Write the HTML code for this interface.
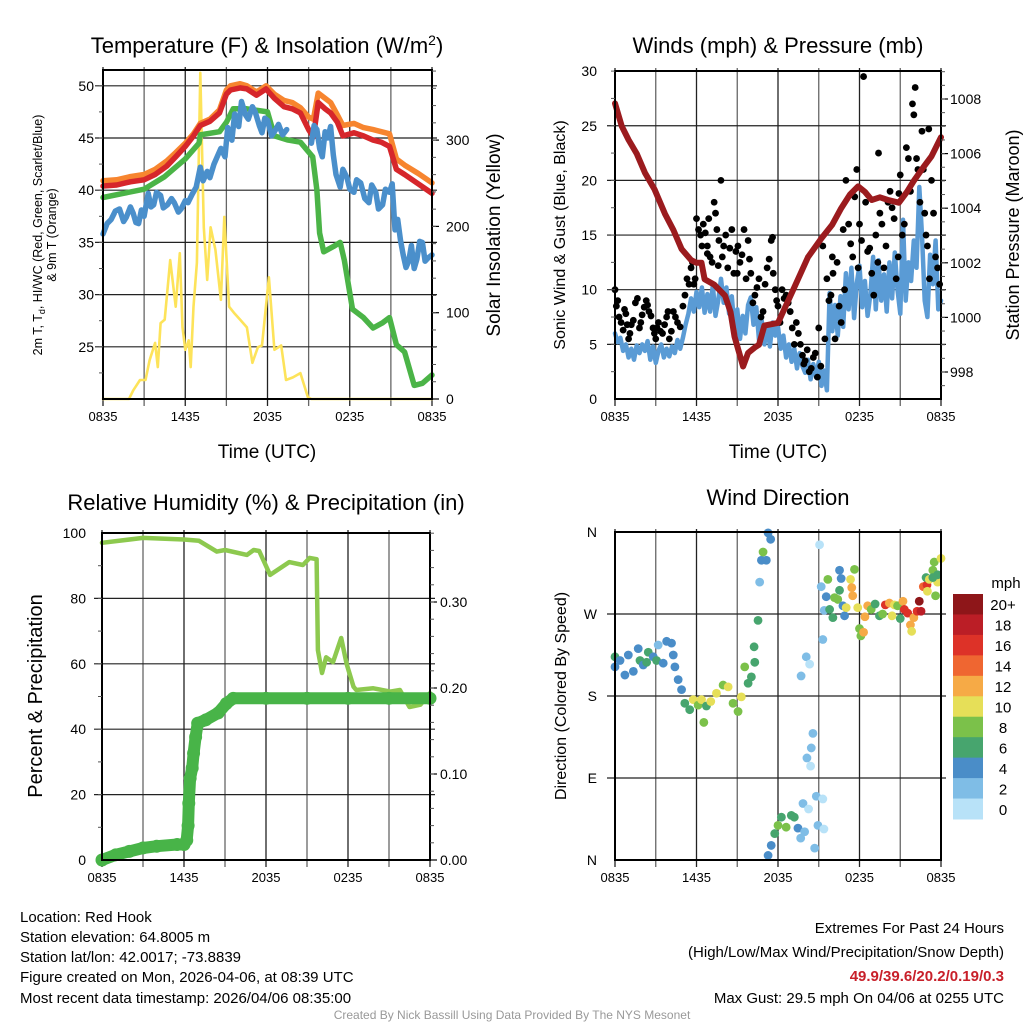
<!DOCTYPE html>
<html><head><meta charset="utf-8"><style>
html,body{margin:0;padding:0;background:#fff;}
svg{display:block;font-family:"Liberation Sans",Arial,sans-serif;}
</style></head><body>
<svg id="chart" width="1024" height="1024" viewBox="0 0 1024 1024" xmlns="http://www.w3.org/2000/svg">
<rect width="1024" height="1024" fill="#fff"/>
<g id="grids"></g>
<g id="series"></g>
<g id="axes"></g>
<text x="267" y="53" font-size="22" text-anchor="middle">Temperature (F) &amp; Insolation (W/m<tspan dy="-8" font-size="14">2</tspan><tspan dy="8">)</tspan></text>
<text x="778" y="53" font-size="22" text-anchor="middle">Winds (mph) &amp; Pressure (mb)</text>
<text x="266" y="510" font-size="22" text-anchor="middle">Relative Humidity (%) &amp; Precipitation (in)</text>
<text x="778" y="505" font-size="22" text-anchor="middle">Wind Direction</text>
<text x="267" y="458" font-size="19" text-anchor="middle">Time (UTC)</text>
<text x="778" y="458" font-size="19" text-anchor="middle">Time (UTC)</text>
<g transform="translate(42,235) rotate(-90)" font-size="12.5" text-anchor="middle">
<text x="0" y="0">2m T, T<tspan dy="3" font-size="9">d</tspan><tspan dy="-3">, HI/WC (Red, Green, Scarlet/Blue)</tspan></text>
<text x="0" y="14">&amp; 9m T (Orange)</text></g>
<text transform="translate(500,235) rotate(-90)" font-size="19" text-anchor="middle">Solar Insolation (Yellow)</text>
<text transform="translate(565,235) rotate(-90)" font-size="16" text-anchor="middle">Sonic Wind &amp; Gust (Blue, Black)</text>
<text transform="translate(1019,235) rotate(-90)" font-size="18" text-anchor="middle">Station Pressure (Maroon)</text>
<text transform="translate(42,696) rotate(-90)" font-size="20" text-anchor="middle">Percent &amp; Precipitation</text>
<text transform="translate(566,696) rotate(-90)" font-size="16" text-anchor="middle">Direction (Colored By Speed)</text>
<g id="cbar"></g>
<text x="1006" y="588" font-size="15" text-anchor="middle">mph</text>
<g font-size="15">
<text x="20" y="922">Location: Red Hook</text>
<text x="20" y="942">Station elevation: 64.8005 m</text>
<text x="20" y="962">Station lat/lon: 42.0017; -73.8839</text>
<text x="20" y="982">Figure created on Mon, 2026-04-06, at 08:39 UTC</text>
<text x="20" y="1003">Most recent data timestamp: 2026/04/06 08:35:00</text>
</g>
<g font-size="15" text-anchor="end">
<text x="1004" y="933">Extremes For Past 24 Hours</text>
<text x="1004" y="957">(High/Low/Max Wind/Precipitation/Snow Depth)</text>
<text x="1004" y="981" fill="#c8202a" font-weight="bold">49.9/39.6/20.2/0.19/0.3</text>
<text x="1004" y="1003">Max Gust: 29.5 mph On 04/06 at 0255 UTC</text>
</g>
<text x="512" y="1019" font-size="12" fill="#999" text-anchor="middle">Created By Nick Bassill Using Data Provided By The NYS Mesonet</text>
</svg>
<script>
const timeTickLabels = ["0835","1435","2035","0235","0835"];
const tempTicks = [25,30,35,40,45,50];
const solarTicks = [0,100,200,300];
const windTicks = [0,5,10,15,20,25,30];
const presTicks = [998,1000,1002,1004,1006,1008];
const rhTicks = [0,20,40,60,80,100];
const precipTicks = [0,0.1,0.2,0.3];
const dirTickLabels = ["N","E","S","W","N"];

const redH = [0,1,2,3,3.8,4.65,5.3,6,6.6,7.1,7.8,8.5,9,9.3,10,10.5,11.2,11.9,12.5,13.2,13.8,14.4,15,15.35,15.7,16.2,16.6,17.1,17.5,18.3,19,19.7,20.3,20.9,21.4,22,23,24];
const redT = [40.4,40.5,40.8,41.0,41.5,42.3,43.2,44.2,45.2,46.2,46.6,47.4,49.2,49.6,49.8,49.7,49.1,49.7,48.8,48.0,47.8,47.4,45.8,45.1,48.4,47.8,47.4,46.5,45.2,45.5,45.2,44.8,44.6,44.2,42.0,41.5,40.6,39.7];
const orangeH = [0,1,2,3,3.8,4.65,5.3,6,6.6,7.1,7.8,8.5,9,9.3,10,10.5,11.2,11.9,12.5,13.2,13.8,14.4,15,15.35,15.7,16.2,16.6,17.1,17.5,18.3,19,19.7,20.3,20.9,21.4,22,23,24];
const orangeT = [40.9,41.0,41.3,41.5,42.0,42.8,43.6,44.5,45.4,46.4,46.8,47.7,49.6,50.0,50.2,50.0,49.4,50.0,49.2,48.6,48.4,47.9,47.0,46.8,49.3,48.8,48.4,47.2,46.2,46.4,46.0,45.8,45.6,45.4,43.0,42.4,41.6,40.7];
const greenH = [0,1.5,3,4.5,6,7,7.1,8.5,9,9.5,10.5,12,12.5,13.5,14.4,15.3,15.6,15.8,16.1,16.8,17.3,17.6,18.2,19,19.7,20.4,20.9,21.4,22,22.7,23.3,24];
const greenT = [39.3,39.7,40.1,41.3,43.0,44.5,45.3,45.6,46.5,47.8,47.8,47.5,45.2,44.8,44.6,43.2,40,35.9,34.1,34.6,35,33.3,28.6,27.8,26.8,27.3,27.8,25.2,24.5,21.3,21.5,22.3];
const blueH = [0,0.3,0.6,0.9,1.2,1.5,1.7,2.0,2.2,2.4,2.6,2.8,3.0,3.3,3.5,3.7,3.9,4.2,4.4,4.7,5.0,5.2,5.5,5.7,6.0,6.2,6.5,6.8,7.1,7.3,7.6,7.8,8.1,8.4,8.6,8.9,9.1,9.4,9.6,9.9,10.1,10.4,10.6,10.9,11.1,11.4,11.6,11.8,12,12.3,12.6,12.8,13.1,13.4,14,15.2,15.4,15.6,15.8,16,16.2,16.4,16.6,16.8,17.0,17.3,17.5,17.8,18.0,18.3,18.5,18.8,19.1,19.4,19.6,19.9,20.1,20.4,20.6,20.9,21.1,21.3,21.5,21.7,21.9,22.1,22.3,22.5,22.7,22.9,23.1,23.3,23.5,23.7,24];
const blueT = [35.8,36.8,37.2,38.0,38.2,37.0,37.4,38.4,37.8,36.9,36.8,38.1,37.5,39.7,38.4,38.6,39.8,39.5,38.3,38.6,39.2,38.8,37.9,38.2,39.0,38.8,39.6,40.3,42.2,40.9,41.8,41.2,42.5,43.4,44,43.2,46,44.8,47.3,46.1,48.5,47.2,46.8,48.0,47.5,46.2,45.5,46.9,46.7,45.2,45.8,46.3,45.3,45.8,null,44.5,46.2,45.8,44.0,43.2,45.6,45,46.1,43.4,41.5,40.3,42.0,41.2,40.1,39.8,41.0,40.7,39.2,38.8,40.5,39.8,38.2,38.6,40.1,39.8,40.6,36.2,37.2,35.2,33.8,32.6,33.2,34.7,32.5,33.4,35.1,35,33.2,33.5,33.8];
const solarH = [0,1.9,2.2,2.7,3.1,3.4,3.8,4.0,4.2,4.5,4.9,5.3,5.6,5.8,6.0,6.25,6.4,6.6,6.85,7.1,7.35,7.6,7.85,8.2,8.6,8.85,9.2,9.55,10.0,10.5,10.9,11.3,11.6,12.1,12.5,13.0,13.35,13.85,14.4,14.95,15.2,24];
const solarW = [0,0,10,22,22,45,65,37,88,92,161,107,169,83,57,68,37,107,158,378,199,138,199,173,115,211,107,100,92,83,42,60,62,141,57,62,22,25,30,2,0,0];

const windH = [0,0.2,0.4,0.6,0.8,1.0,1.2,1.4,1.6,1.8,2.0,2.2,2.4,2.6,2.8,3.0,3.2,3.4,3.6,3.8,4.0,4.2,4.4,4.6,4.8,5.0,5.2,5.4,5.6,5.8,6.0,6.2,6.4,6.6,6.8,7.0,7.2,7.4,7.6,7.8,8.0,8.2,8.4,8.6,8.8,9.0,9.2,9.4,9.6,9.8,10.0,10.2,10.4,10.6,10.8,11.0,11.2,11.4,11.6,11.8,12.0,12.2,12.4,12.6,12.8,13.0,13.2,13.4,13.6,13.8,14.0,14.2,14.4,14.6,14.8,15.0,15.2,15.4,15.6,15.8,16.0,16.2,16.4,16.6,16.8,17.0,17.2,17.4,17.6,17.8,18.0,18.2,18.4,18.6,18.8,19.0,19.2,19.4,19.6,19.8,20.0,20.2,20.4,20.6,20.8,21.0,21.2,21.4,21.6,21.8,22.0,22.2,22.4,22.6,22.8,23.0,23.2,23.4,23.6,23.8,24.0];
const windV = [6,5.2,5.6,4.4,5.0,3.8,4.6,3.6,4.9,4.2,5.0,4.4,5.3,3.6,4.8,3.3,4.4,5.0,3.8,4.6,3.9,4.8,4.2,5.4,4.6,5.6,6.8,7.8,9.2,8.0,9.8,8.4,10.2,7.9,9.6,8.0,10.4,7.6,9.0,11.0,8.8,10.2,7.8,9.4,6.5,8.2,5.5,7.6,6.0,8.6,9.3,6.8,8.4,5.4,7.2,5.0,6.8,4.8,7.0,5.8,6.6,4.6,5.8,3.8,5.0,3.4,4.6,2.8,4.2,3.0,2.4,3.6,1.8,3.2,2.0,3.4,1.2,2.6,0.8,9.7,6.2,8.6,5.8,9.4,6.6,11.5,8.2,12.0,7.4,10.6,12.2,8.4,10.8,7.6,9.6,13.0,8.2,12.7,9.0,11.4,8.0,12.5,9.2,13.4,10.0,7.8,16.4,9.0,12.5,10.8,14.5,12.0,19.4,15.0,9.0,7.5,13.2,10.5,14.5,8.2,9.0];
const gustH = [0,0.1,0.3,0.6,0.8,1.0,1.2,1.5,1.8,2.0,2.3,2.5,2.8,3.0,3.2,3.5,3.8,4.0,4.3,4.6,5.0,5.3,5.6,5.8,6.0,6.3,6.5,6.8,7.0,7.3,7.5,7.8,8.0,8.3,8.6,8.9,9.2,9.5,9.8,10.0,10.3,10.6,10.9,11.2,11.5,11.8,12.0,12.3,12.6,12.9,13.2,13.5,13.8,14.0,14.3,14.6,14.9,15.0,15.3,15.6,15.9,16.2,16.5,16.8,17.0,17.2,17.5,17.8,18.0,18.3,18.6,18.9,19.2,19.5,19.8,20.1,20.4,20.7,21.0,21.3,21.6,21.9,22.1,22.3,22.6,22.8,23.0,23.3,23.6,23.9,6.8,7.6,9.0,11.6,16.0,20.9,19.4,23.1];
const gustV = [10,8.5,7.5,6.3,7.8,5.5,6.8,8.8,6.5,7.7,9,8,6.5,5.5,7,6,7.5,5.5,8,7,8.5,11,12,10.5,16.5,15,16,14,13,18,15.5,20,14,12,15.5,13.5,12.5,15.5,14.5,11.5,9.5,11,8,12,14.5,10,8.5,10,9.5,8,5,6,4,3.5,2.5,3.8,2,6.5,14,11,9.5,5.5,8.5,15.5,20,16,13,21,16,29.5,13.5,11.5,15,17,12,18,17.5,11,20.5,16,22,27,28.5,21,24.5,17,14,20,13,10.5,13.3,12.2,11.5,14.8,13,18.8,22.5,24.7];
const gustH2 = [0.2,0.45,0.7,0.9,1.1,1.35,1.65,1.9,2.15,2.4,2.65,2.9,3.1,3.35,3.65,3.9,4.15,4.45,4.8,5.15,5.45,5.7,5.9,6.15,6.4,6.65,6.9,7.15,7.4,7.65,7.9,8.15,8.45,8.75,9.05,9.35,9.65,9.9,10.15,10.45,10.75,11.05,11.35,11.65,11.9,12.15,12.45,12.75,13.05,13.35,13.65,13.9,14.15,14.45,14.75,15.15,15.45,15.75,16.05,16.35,16.65,16.9,17.35,17.65,17.9,18.15,18.45,18.75,19.05,19.35,19.65,19.95,20.25,20.55,20.85,21.15,21.45,21.75,22.0,22.2,22.45,22.7,22.9,23.15,23.45,23.75];
const gustV2 = [9,7,8.2,6.8,6,7.2,9.2,7,8.4,8.6,7.6,6,6.5,6.2,6.8,8,6.2,7.5,6.6,9.5,10.5,12.5,11,15.5,14,15.2,16.5,12.5,17,14.5,13,15,13.8,11.5,14,13.2,11,12.8,8.8,10.2,7.5,10.5,12.8,11.5,9,7,9.2,8.8,6.5,7,5,3.2,4.5,2.8,4.2,3,5.5,9,11.5,12.5,7,10,14.2,18.5,12,14.5,18,13.8,9.5,12.5,16,14,19,16.5,13,15,23,19,26,22,18,21,15,11,17,12];
const presH = [0,0.5,1,1.6,2.2,2.9,3.67,4.3,4.9,5.6,6.0,6.37,6.6,7.3,8.1,8.5,8.8,9.43,9.8,10.3,10.6,11,12,13.2,14.2,15.2,16.0,16.65,17.3,17.9,18.4,18.9,19.5,20.1,20.9,21.5,22.0,22.7,23.3,24];
const presP = [1007.84,1007.0,1006.5,1006.0,1005.3,1004.7,1003.8,1003.2,1002.5,1002.1,1002.0,1002,1001.4,1001.2,1000.8,1000.2,999.3,998.2,998.7,998.9,999.0,999.7,999.8,1001.1,1002.2,1002.9,1003.4,1004,1004.5,1004.8,1004.6,1004.3,1004.4,1004.3,1004.2,1004.6,1005,1005.5,1005.9,1006.6];

const rhH = [0,3,6,7.1,8.4,9,10.6,11.1,11.5,12.3,13.7,14.7,15.2,15.7,15.8,16.1,16.4,16.9,17.5,17.9,18.4,18.6,19.85,21.1,21.8,22.5,23.3,24];
const rhV = [97,98.5,98,97.6,94.3,94.8,93.3,94.8,94.5,87.2,91.1,90.2,92.4,92,64.2,57.2,62,60.5,67.9,60,53,52,52.5,51.5,52,46.8,47.5,51];
const precipH = [0,1,2,3,4,5.5,6,6.2,6.3,6.35,6.45,6.6,6.7,6.85,7.0,7.6,8.5,9.1,9.6,12,15,18,21,24];
const precipV = [0,0.006,0.01,0.014,0.016,0.018,0.018,0.023,0.04,0.066,0.095,0.107,0.124,0.143,0.159,0.163,0.171,0.182,0.188,0.188,0.188,0.188,0.188,0.188];

const dirH = [0,0,0.37,0.73,0.98,1.35,1.71,1.84,2.08,2.33,2.45,2.82,3.06,3.18,3.55,3.8,4.16,4.29,4.41,4.65,4.9,5.14,5.5,5.76,6.12,6.37,6.54,6.73,7.05,7.47,7.96,8.33,8.69,9.06,9.3,9.55,9.8,10.04,10.29,10.24,10.53,10.65,10.78,10.9,11.14,11.27,11.46,11.27,11.5,11.76,12.0,12.25,12.6,12.98,13.2,13.47,13.67,13.84,13.96,14.08,14.33,13.7,14.57,14.45,14.13,14.4,14.82,15.3,14.25,14.94,15.38,14.7,15.06,15.18,15.55,15.67,15.3,15.4,15.8,16.04,16.16,16.4,16.53,16.65,16.53,16.78,16.9,17.02,17.34,17.43,17.5,17.63,17.87,18.0,18.1,18.3,18.4,18.6,18.86,19.15,19.47,19.7,19.9,20.2,20.4,20.57,20.8,21.0,21.2,21.3,21.55,21.75,21.84,22.0,22.24,22.4,22.53,22.7,22.97,23.0,22.9,23.14,23.4,23.6,23.75,23.75,23.5,24,23.4];
const dirD = [223,212,219,203,225,207,232,219,214,217,228,223,219,236,216,240,238,225,212,198,187,172,165,176,170,176,151,169,174,183,192,190,172,163,179,212,194,201,217,234,263,305,329,338,329,359,352,5,16,29,38,47,36,49,47,35,24,62,31,223,215,202,139,123,112,103,70,67,56,38,34,13,346,300,289,308,242,274,275,266,288,286,318,309,296,279,268,277,308,299,290,319,277,254,246,250,267,279,275,281,268,270,280,282,268,280,279,265,284,275,271,258,251,266,273,284,273,300,302,295,310,308,318,290,305,313,327,331,310];
const dirS = [6,4,4,4,4,4,4,6,4,6,6,4,6,2,4,4,4,4,4,4,4,6,6,10,8,10,8,6,10,10,8,10,8,8,10,8,6,6,6,6,6,2,4,8,4,4,4,4,4,6,8,6,8,6,6,4,2,2,2,2,0,2,2,2,2,0,2,0,0,2,0,2,0,2,4,8,2,2,6,6,8,8,4,4,6,4,4,10,10,12,12,8,10,8,8,12,12,12,8,6,6,8,16,12,10,10,8,6,12,16,16,12,10,12,16,20,18,14,16,10,6,10,8,8,10,6,8,10,6];
const speedLevels = [0,2,4,6,8,10,12,14,16,18,20];
const speedLabels = ["0","2","4","6","8","10","12","14","16","18","20+"];
const speedColors = ["#b8e2f8","#7fbde6","#4a8dc8","#47a56e","#7bc14a","#e6df58","#f6aa46","#ef6631","#dd3228","#bb1e26","#8e1619"];

const NS="http://www.w3.org/2000/svg";
const P1={x0:103,x1:432,y0:70,y1:399}, P2={x0:615,x1:941,y0:71,y1:399}, P3={x0:102,x1:430,y0:533,y1:860}, P4={x0:615,x1:941,y0:532,y1:860};
const xs=P=>h=>P.x0+h*(P.x1-P.x0)/24;
const X1=xs(P1),X2=xs(P2),X3=xs(P3),X4=xs(P4);
const YT=t=>399-(t-20)*10.44, YS=w=>399-w*0.863;
const YW=v=>399-v*10.93, YP=p=>372-(p-998)*27.3;
const YR=r=>860-r*3.27, YPR=p=>860-p*860;
const YD=d=>860-d*328/360;

function mk(tag,attrs,parent){const e=document.createElementNS(NS,tag);for(const k in attrs)e.setAttribute(k,attrs[k]);parent.appendChild(e);return e;}
const G=document.getElementById('grids'),S=document.getElementById('series'),A=document.getElementById('axes');

function pathFrom(hs,vs,X,Y){let d="",pen=false;for(let i=0;i<hs.length;i++){if(vs[i]===null){pen=false;continue;}d+=(pen?"L":"M")+X(hs[i]).toFixed(1)+","+Y(vs[i]).toFixed(1);pen=true;}return d;}
function line(hs,vs,X,Y,color,w,name){const p=mk('path',{d:pathFrom(hs,vs,X,Y),fill:'none',stroke:color,'stroke-width':w,'stroke-linejoin':'round','stroke-linecap':'round'},S);

return p;}

function panel(P,X,hY,hVals,name){
  for(let i=0;i<=8;i++){const x=X(i*3);const l=mk('line',{x1:x,x2:x,y1:P.y0-3,y2:P.y1+7,stroke:i%2?'#666':'#222','stroke-width':1.3},G);
    
    }
  hVals.forEach(v=>{const y=hY(v);const l=mk('line',{x1:P.x0-8,x2:P.x1+5,y1:y,y2:y,stroke:'#222','stroke-width':1.2},G);
    
    });
  const r=mk('rect',{x:P.x0,y:P.y0,width:P.x1-P.x0,height:P.y1-P.y0,fill:'none',stroke:'#000','stroke-width':2},A);
  
  
  timeTickLabels.forEach((t,i)=>{const tx=mk('text',{x:X(i*6),y:P.y1+22,'font-size':13,'text-anchor':'middle'},A);tx.textContent=t;
    
    });
}
function yLabels(vals,Y,x,anchor,fmt,size){vals.forEach(v=>{const t=mk('text',{x:x,y:Y(v)+5,'font-size':size||14,'text-anchor':anchor},A);t.textContent=fmt?fmt(v):v;
  
  });}
function rightTicks(P,vals,Y,minorStep){vals.forEach(v=>{mk('line',{x1:P.x1,x2:P.x1+7,y1:Y(v),y2:Y(v),stroke:'#000','stroke-width':1.2},A);});
  if(minorStep){const lo=vals[0]-minorStep*10,hi=vals[vals.length-1]+minorStep*10;for(let v=lo;v<=hi+1e-9;v+=minorStep){const y=Y(v);if(y>P.y0&&y<P.y1)mk('line',{x1:P.x1,x2:P.x1+4,y1:y,y2:y,stroke:'#555','stroke-width':1},A);}}}
function leftMinor(P,Y,lo,hi,step){for(let v=lo;v<=hi+1e-9;v+=step){const y=Y(v);if(y>P.y0&&y<P.y1)mk('line',{x1:P.x0-4,x2:P.x0,y1:y,y2:y,stroke:'#555','stroke-width':1},A);}}

panel(P1,X1,YT,tempTicks,'temp');
yLabels(tempTicks,YT,94,'end');
leftMinor(P1,YT,20,52,2.5);
rightTicks(P1,solarTicks,YS,20);
yLabels(solarTicks,YS,446,'start');
line(solarH,solarW,X1,YS,'#fde35a',2.6,'solar-insolation-line');
line(orangeH,orangeT,X1,YT,'#f7852f',5.5,'temp-9m-line');
line(redH,redT,X1,YT,'#d6262b',5.5,'temp-2m-line');
line(greenH,greenT,X1,YT,'#4bb447',5.5,'dewpoint-line');
line(blueH,blueT,X1,YT,'#4a8fcb',5.5,'wind-chill-line');

panel(P2,X2,YW,windTicks.slice(1,6),'wind');
yLabels(windTicks,YW,597,'end');
leftMinor(P2,YW,0,30,2.5);
rightTicks(P2,presTicks,YP,0.5);
yLabels(presTicks,YP,950,'start');
line(windH,windV,X2,YW,'#5a9bd5',4.5,'sonic-wind-line');
gustH.forEach((h,i)=>{const c=mk('circle',{cx:X2(h),cy:YW(gustV[i]),r:3.4,fill:'#000'},S);
  
  });
gustH2.forEach((h,i)=>{const c=mk('circle',{cx:X2(h),cy:YW(gustV2[i]),r:3.4,fill:'#000'},S);
  
  });
line(presH,presP,X2,YP,'#9b1b1e',6,'pressure-line');

panel(P3,X3,YR,[20,40,60,80],'rh');
yLabels(rhTicks,YR,86,'end');
leftMinor(P3,YR,0,100,10);
rightTicks(P3,precipTicks,YPR,0.02);
yLabels(precipTicks,YPR,440,'start',v=>v.toFixed(2));
line(rhH,rhV,X3,YR,'#8dc94f',4.5,'humidity-line');
line(precipH,precipV,X3,YPR,'#48b448',12,'precip-line');
precipH.forEach((h,i)=>{const c=mk('circle',{cx:X3(h),cy:YPR(precipV[i]),r:6.5,fill:'#48b448'},S);
  
  });

panel(P4,X4,YD,[90,180,270],'dir');
dirTickLabels.forEach((t,i)=>{const tx=mk('text',{x:597,y:YD(i*90)+5,'font-size':14,'text-anchor':'end'},A);tx.textContent=t;
  
  });
function colorFor(s){let k=0;for(let i=0;i<speedLevels.length;i++)if(s>=speedLevels[i])k=i;return speedColors[k];}
dirH.forEach((h,i)=>{const c=mk('circle',{cx:X4(h),cy:YD(dirD[i]),r:4.4,fill:colorFor(dirS[i])},S);
  
  });

const CB=document.getElementById('cbar');
const cbTop=594,cbBot=819,cbH=(cbBot-cbTop)/speedColors.length;
speedColors.forEach((col,i)=>{const k=speedColors.length-1-i;const y=cbTop+i*cbH;
  const r=mk('rect',{x:953,y:y,width:30,height:cbH+0.5,fill:speedColors[k]},CB);
  
  
  const t=mk('text',{x:1003,y:y+cbH/2+6,'font-size':15,'text-anchor':'middle'},CB);t.textContent=speedLabels[k];
  
  });
</script>
</body></html>
